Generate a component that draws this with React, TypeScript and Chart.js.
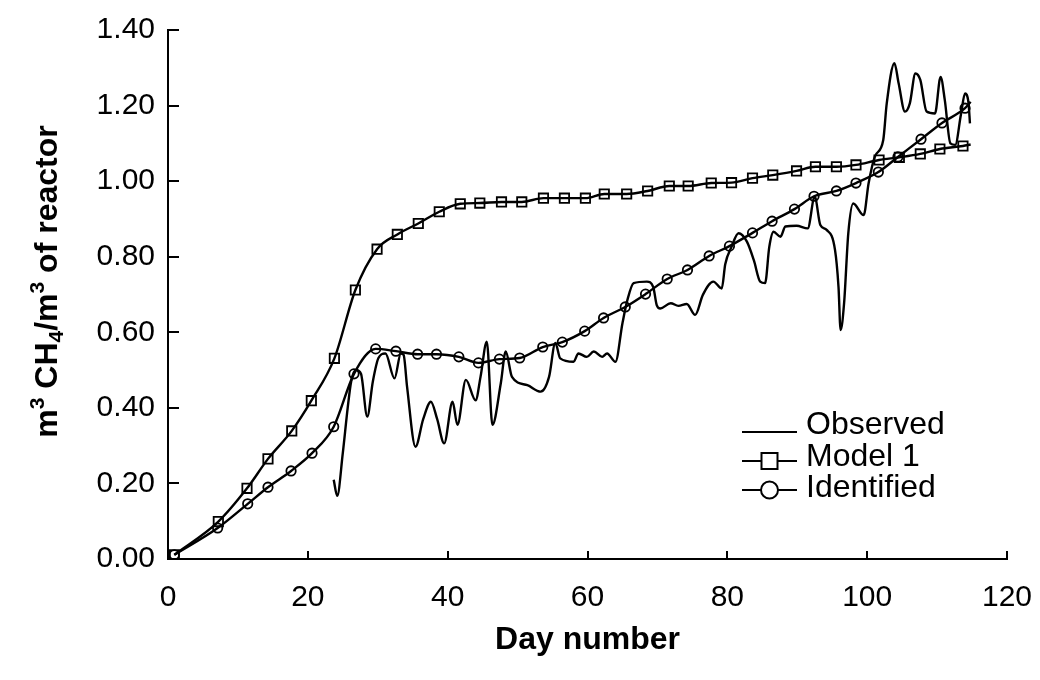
import React, { useEffect, useRef } from "react";
import { Chart, registerables } from "chart.js";

Chart.register(...registerables);

// ---------- data ----------
const xTicks = [0, 20, 40, 60, 80, 100, 120];
const yTicks = [0, 0.2, 0.4, 0.6, 0.8, 1.0, 1.2, 1.4];

const legendLabels = ["Observed", "Model 1", "Identified"];

const observedDays = [
  23.7, 24.2, 25.0, 25.7, 26.2, 26.9, 27.6, 28.5, 29.3, 30.1, 31.1, 32.4, 33.3, 33.7, 34.2, 35.4,
  36.5, 37.6, 38.5, 39.5, 40.7, 41.4, 42.6, 44.0, 44.7, 45.6, 46.4, 47.6, 48.3, 49.2, 51.4, 53.3,
  54.5, 55.4, 56.1, 58.0, 58.7, 59.9, 60.9, 62.1, 62.8, 64.0, 65.0, 65.7, 66.6, 68.5, 69.4, 69.9,
  70.4, 71.9, 73.0, 74.2, 75.4, 76.5, 78.0, 79.2, 79.7, 80.6, 81.6, 82.8, 83.8, 84.7, 85.4, 86.0,
  86.6, 87.6, 88.3, 89.9, 91.5, 92.5, 93.3, 94.2, 95.4, 95.9, 96.2, 96.7, 97.3, 98.0, 99.5, 100.2,
  101.1, 102.3, 102.8, 103.9, 104.5, 105.4, 106.1, 106.9, 107.6, 108.5, 109.7, 110.5, 111.1, 111.9,
  112.6, 113.4, 114.0, 114.5, 114.7,
];
const observedValues = [
  0.21, 0.167, 0.28, 0.4, 0.47, 0.5, 0.49, 0.377, 0.47, 0.532, 0.544, 0.478, 0.544, 0.54, 0.455, 0.297,
  0.37, 0.416, 0.37, 0.306, 0.416, 0.355, 0.474, 0.42, 0.482, 0.575, 0.355, 0.465, 0.549, 0.482, 0.46, 0.443,
  0.482, 0.572, 0.531, 0.522, 0.544, 0.535, 0.549, 0.535, 0.544, 0.522, 0.624, 0.685, 0.73, 0.734, 0.72, 0.672,
  0.663, 0.677, 0.67, 0.675, 0.646, 0.699, 0.734, 0.716, 0.78, 0.826, 0.862, 0.84, 0.79, 0.734, 0.73, 0.826,
  0.866, 0.853, 0.88, 0.882, 0.875, 0.959, 0.884, 0.871, 0.818, 0.72, 0.606, 0.677, 0.862, 0.941, 0.91, 0.994,
  1.065, 1.109, 1.206, 1.312, 1.259, 1.184, 1.206, 1.285, 1.268, 1.184, 1.179, 1.276, 1.215, 1.1,
  1.096, 1.175, 1.232, 1.206, 1.153,
];

const model1Days = [
  0.9, 7.2, 11.3, 14.3, 17.7, 20.5, 23.8, 26.8, 29.9, 32.8,
  35.8, 38.8, 41.8, 44.6, 47.7, 50.6, 53.7, 56.7, 59.7, 62.4,
  65.6, 68.6, 71.7, 74.4, 77.7, 80.6, 83.6, 86.5, 89.9, 92.6,
  95.6, 98.4, 101.7, 104.6, 107.6, 110.4, 113.7, 114.8,
];
const model1Values = [
  0.011, 0.099, 0.187, 0.265, 0.339, 0.419, 0.531, 0.712, 0.82, 0.859,
  0.888, 0.919, 0.94, 0.942, 0.945, 0.945, 0.955, 0.955, 0.955, 0.966,
  0.966, 0.974, 0.987, 0.987, 0.995, 0.996, 1.008, 1.016, 1.027, 1.038,
  1.038, 1.043, 1.056, 1.063, 1.072, 1.085, 1.093, 1.097,
];

const identifiedDays = [
  0.9, 7.1, 11.4, 14.3, 17.6, 20.6, 23.7, 26.6, 29.7, 32.6,
  35.7, 38.4, 41.6, 44.4, 47.4, 50.3, 53.6, 56.4, 59.6, 62.3,
  65.4, 68.3, 71.4, 74.3, 77.4, 80.3, 83.6, 86.4, 89.6, 92.4,
  95.6, 98.4, 101.6, 104.4, 107.7, 110.7, 114.0, 114.8,
];
const identifiedValues = [
  0.011, 0.082, 0.146, 0.19, 0.233, 0.28, 0.35, 0.49, 0.556, 0.55,
  0.542, 0.542, 0.535, 0.519, 0.529, 0.532, 0.561, 0.574, 0.603, 0.638,
  0.667, 0.701, 0.741, 0.765, 0.802, 0.828, 0.863, 0.894, 0.926, 0.96,
  0.974, 0.995, 1.024, 1.064, 1.111, 1.154, 1.193, 1.21,
];

const FONT = '"Liberation Sans", Arial, Helvetica, sans-serif';

const toPoints = (xs: number[], ys: number[]) => xs.map((x, i) => ({ x, y: ys[i] }));

// inward tick marks
const tickPlugin = {
  id: "inwardTicks",
  afterDraw(chart: any) {
    const { ctx, chartArea } = chart;
    const xs = chart.scales.x;
    const ys = chart.scales.y;
    ctx.save();
    ctx.strokeStyle = "#000";
    ctx.lineWidth = 2;
    ctx.beginPath();
    yTicks.forEach((v) => {
      const py = Math.round(ys.getPixelForValue(v));
      ctx.moveTo(chartArea.left, py);
      ctx.lineTo(chartArea.left + 11, py);
    });
    xTicks.forEach((v, i) => {
      if (i === 0) return;
      const px = Math.round(xs.getPixelForValue(v));
      ctx.moveTo(px, chartArea.bottom);
      ctx.lineTo(px, chartArea.bottom - 8);
    });
    ctx.stroke();
    ctx.restore();
  },
};

// y-axis title with super/subscripts
const yTitlePlugin = {
  id: "yTitle",
  afterDraw(chart: any) {
    const { ctx, chartArea } = chart;
    const main = `bold 32px ${FONT}`;
    const small = `bold 21px ${FONT}`;
    const parts: { t: string; f: string; dy: number }[] = [
      { t: "m", f: main, dy: 0 },
      { t: "3", f: small, dy: -13 },
      { t: " CH", f: main, dy: 0 },
      { t: "4", f: small, dy: 6 },
      { t: "/m", f: main, dy: 0 },
      { t: "3", f: small, dy: -13 },
      { t: " of reactor", f: main, dy: 0 },
    ];
    ctx.save();
    let total = 0;
    parts.forEach((p) => {
      ctx.font = p.f;
      total += ctx.measureText(p.t).width;
    });
    const cy = (chartArea.top + chartArea.bottom) / 2 - 13;
    ctx.translate(57, cy);
    ctx.rotate(-Math.PI / 2);
    ctx.fillStyle = "#000";
    ctx.textBaseline = "alphabetic";
    ctx.textAlign = "left";
    let x = -total / 2;
    parts.forEach((p) => {
      ctx.font = p.f;
      ctx.fillText(p.t, x, p.dy);
      x += ctx.measureText(p.t).width;
    });
    ctx.restore();
  },
};

// legend drawn inside plot area
const legendPlugin = {
  id: "innerLegend",
  afterDraw(chart: any) {
    const { ctx } = chart;
    const x0 = 742;
    const x1 = 797;
    const textX = 806;
    const rows = [
      { lineY: 432, textY: 425, marker: "none" },
      { lineY: 461, textY: 457, marker: "rect" },
      { lineY: 490, textY: 488, marker: "circle" },
    ];
    ctx.save();
    ctx.strokeStyle = "#000";
    ctx.fillStyle = "#000";
    ctx.lineWidth = 2;
    ctx.font = `32px ${FONT}`;
    ctx.textBaseline = "middle";
    ctx.textAlign = "left";
    rows.forEach((r, i) => {
      const cx = (x0 + x1) / 2;
      ctx.beginPath();
      if (r.marker === "none") {
        ctx.moveTo(x0, r.lineY);
        ctx.lineTo(x1, r.lineY);
      } else if (r.marker === "rect") {
        ctx.moveTo(x0, r.lineY);
        ctx.lineTo(cx - 8, r.lineY);
        ctx.moveTo(cx + 8, r.lineY);
        ctx.lineTo(x1, r.lineY);
        ctx.stroke();
        ctx.beginPath();
        ctx.rect(cx - 8, r.lineY - 8, 16, 16);
      } else {
        ctx.moveTo(x0, r.lineY);
        ctx.lineTo(cx - 8.5, r.lineY);
        ctx.moveTo(cx + 8.5, r.lineY);
        ctx.lineTo(x1, r.lineY);
        ctx.stroke();
        ctx.beginPath();
        ctx.arc(cx, r.lineY, 8.5, 0, Math.PI * 2);
      }
      ctx.stroke();
      ctx.fillText(legendLabels[i], textX, r.textY);
    });
    ctx.restore();
  },
};

export default function App() {
  const canvasRef = useRef<HTMLCanvasElement | null>(null);

  useEffect(() => {
    const canvas = canvasRef.current;
    if (!canvas) return;
    Chart.defaults.font.family = FONT;
    Chart.defaults.color = "#000";

    const lastIdx = (arr: number[]) => arr.length - 1;

    const chart = new Chart(canvas, {
      type: "line",
      data: {
        datasets: [
          {
            label: legendLabels[0],
            data: toPoints(observedDays, observedValues),
            borderColor: "#000",
            borderWidth: 2.4,
            pointRadius: 0,
            cubicInterpolationMode: "monotone",
            fill: false,
          },
          {
            label: legendLabels[1],
            data: toPoints(model1Days, model1Values),
            borderColor: "#000",
            borderWidth: 2.4,
            pointStyle: "rect",
            pointRadius: model1Days.map((_, i) => (i === lastIdx(model1Days) ? 0 : 6.6)),
            pointBorderWidth: 1.8,
            pointBorderColor: "#000",
            pointBackgroundColor: "rgba(255,255,255,0)",
            cubicInterpolationMode: "monotone",
            fill: false,
          },
          {
            label: legendLabels[2],
            data: toPoints(identifiedDays, identifiedValues),
            borderColor: "#000",
            borderWidth: 2.4,
            pointStyle: "circle",
            pointRadius: identifiedDays.map((_, i) => (i === lastIdx(identifiedDays) ? 0 : 4.7)),
            pointBorderWidth: 1.8,
            pointBorderColor: "#000",
            pointBackgroundColor: "rgba(255,255,255,0)",
            cubicInterpolationMode: "monotone",
            fill: false,
          },
        ],
      },
      options: {
        responsive: false,
        animation: false,
        layout: { padding: { left: 0, right: 33, top: 30, bottom: 0 } },
        plugins: {
          legend: { display: false },
          tooltip: { enabled: false },
        },
        scales: {
          x: {
            type: "linear",
            min: 0,
            max: 120,
            afterBuildTicks: (scale: any) => {
              scale.ticks = xTicks.map((v) => ({ value: v }));
            },
            afterFit: (scale: any) => {
              scale.height = 121;
              scale.paddingLeft = 0;
              scale.paddingRight = 0;
            },
            grid: { display: false, drawTicks: false },
            border: { display: true, color: "#000", width: 2 },
            ticks: {
              font: { size: 30 },
              color: "#000",
              padding: 21,
              maxRotation: 0,
              callback: (v: any) => String(v),
            },
            title: {
              display: true,
              text: "Day number",
              font: { size: 32, weight: "bold" },
              color: "#000",
              padding: { top: 0, bottom: 21 },
            },
          },
          y: {
            type: "linear",
            min: 0,
            max: 1.4,
            afterBuildTicks: (scale: any) => {
              scale.ticks = yTicks.map((v) => ({ value: v }));
            },
            afterFit: (scale: any) => {
              scale.width = 168;
              scale.paddingTop = 0;
              scale.paddingBottom = 0;
            },
            grid: { display: false, drawTicks: false },
            border: { display: true, color: "#000", width: 2 },
            ticks: {
              font: { size: 30 },
              color: "#000",
              padding: 13,
              callback: (v: any) => Number(v).toFixed(2),
            },
          },
        },
      },
      plugins: [tickPlugin, yTitlePlugin, legendPlugin],
    } as any);

    return () => chart.destroy();
  }, []);

  return (
    <div style={{ position: "absolute", left: 0, top: 0, width: 1040, height: 680, background: "#fff" }}>
      <canvas ref={canvasRef} width={1040} height={680} style={{ display: "block" }} />
    </div>
  );
}
